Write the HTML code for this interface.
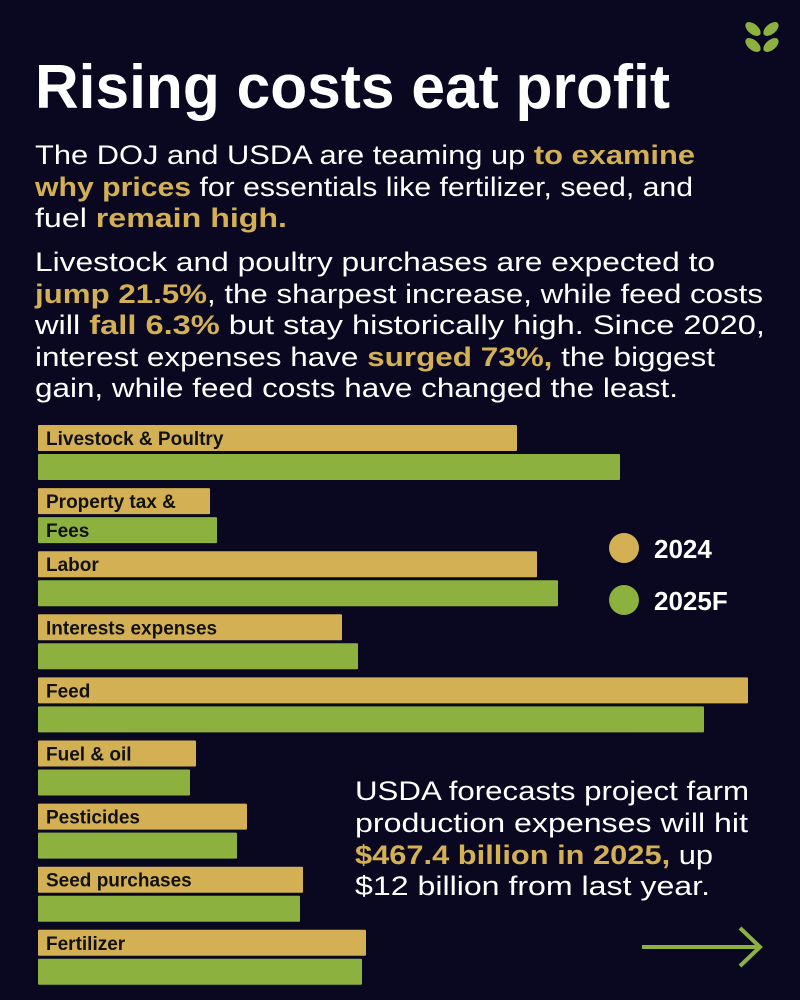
<!DOCTYPE html>
<html><head><meta charset="utf-8"><style>
html,body{margin:0;padding:0;background:#0a0820;}
svg{display:block;font-family:"Liberation Sans","DejaVu Sans",sans-serif;}
.p{fill:#ffffff;font-size:27px;}
.g{fill:#d4b054;font-weight:bold;}
.lbl{fill:#111111;font-weight:bold;font-size:19px;}
</style></head><body>
<svg width="800" height="1000" viewBox="0 0 800 1000">
<rect width="800" height="1000" fill="#0a0820"/>
<g fill="#8db13f">
<ellipse cx="753" cy="29" rx="9" ry="5" transform="rotate(40 753 29)"/>
<ellipse cx="771" cy="29" rx="9" ry="5" transform="rotate(-40 771 29)"/>
<ellipse cx="753" cy="45" rx="9" ry="5" transform="rotate(40 753 45)"/>
<ellipse cx="771" cy="45" rx="9" ry="5" transform="rotate(-40 771 45)"/>
</g>
<text x="35" y="108" fill="#fff" font-weight="bold" font-size="62" textLength="635" lengthAdjust="spacingAndGlyphs">Rising costs eat profit</text>
<g>
<text class="p" x="35" y="164" textLength="660" lengthAdjust="spacingAndGlyphs">The DOJ and USDA are teaming up <tspan class="g">to examine</tspan></text>
<text class="p" x="35" y="196" textLength="658" lengthAdjust="spacingAndGlyphs"><tspan class="g">why prices</tspan> for essentials like fertilizer, seed, and</text>
<text class="p" x="35" y="227" textLength="252" lengthAdjust="spacingAndGlyphs">fuel <tspan class="g">remain high.</tspan></text>
</g>
<g>
<text class="p" x="35" y="271" textLength="680" lengthAdjust="spacingAndGlyphs">Livestock and poultry purchases are expected to</text>
<text class="p" x="35" y="303" textLength="728" lengthAdjust="spacingAndGlyphs"><tspan class="g">jump 21.5%</tspan>, the sharpest increase, while feed costs</text>
<text class="p" x="35" y="334" textLength="730" lengthAdjust="spacingAndGlyphs">will <tspan class="g">fall 6.3%</tspan> but stay historically high. Since 2020,</text>
<text class="p" x="35" y="366" textLength="680" lengthAdjust="spacingAndGlyphs">interest expenses have <tspan class="g">surged 73%,</tspan> the biggest</text>
<text class="p" x="35" y="397" textLength="643" lengthAdjust="spacingAndGlyphs">gain, while feed costs have changed the least.</text>
</g>
<g id="bars"></g>
<g>
<circle cx="624" cy="548" r="15" fill="#d4b054"/>
<text x="654" y="558" fill="#fff" font-weight="bold" font-size="26">2024</text>
<circle cx="624" cy="600" r="15" fill="#8db13f"/>
<text x="654" y="610" fill="#fff" font-weight="bold" font-size="26">2025F</text>
</g>
<g>
<text class="p" x="355" y="800" textLength="394" lengthAdjust="spacingAndGlyphs">USDA forecasts project farm</text>
<text class="p" x="355" y="832" textLength="393" lengthAdjust="spacingAndGlyphs">production expenses will hit</text>
<text class="p" x="355" y="864" textLength="358" lengthAdjust="spacingAndGlyphs"><tspan class="g">$467.4 billion in 2025,</tspan> up</text>
<text class="p" x="355" y="895" textLength="355" lengthAdjust="spacingAndGlyphs">$12 billion from last year.</text>
</g>
<g stroke="#8db13f" stroke-width="4" fill="none">
<line x1="642" y1="947" x2="760" y2="947"/>
<polyline points="740,928 760,947 740,966"/>
</g>
<script>
const categories=["Livestock & Poultry","Property tax &|Fees","Labor","Interests expenses","Feed","Fuel & oil","Pesticides","Seed purchases","Fertilizer"];
const values2024=[47.9,17.2,49.9,30.4,71.0,15.8,20.9,26.5,32.8];
const values2025=[58.2,17.9,52.0,32.0,66.6,15.2,19.9,26.2,32.4];
const ns="http://www.w3.org/2000/svg";
const g=document.getElementById('bars');
const x0=38, pxPer=10;
function xs(v){return v*pxPer;}
function ys(i){return 425+i*63.1;}
function mk(t,a){const e=document.createElementNS(ns,t);for(const k in a)e.setAttribute(k,a[k]);return e;}
categories.forEach((c,i)=>{
 const y=ys(i);
 const parts=c.split('|');
 const b1=mk('rect',{x:x0,y:y,width:xs(values2024[i]),height:26,fill:'#d4b054',rx:1});
 
 
 g.appendChild(b1);
 const b2=mk('rect',{x:x0,y:y+29,width:xs(values2025[i]),height:26,fill:'#8db13f',rx:1});
 
 
 g.appendChild(b2);
 const t=mk('text',{x:46,y:y+20,class:'lbl'});
 t.textContent=parts[0];
 
 
 g.appendChild(t);
 if(parts[1]){const t2=mk('text',{x:46,y:y+49,class:'lbl'});t2.textContent=parts[1];
 
 
 g.appendChild(t2);}
});
</script>
</svg>
</body></html>
